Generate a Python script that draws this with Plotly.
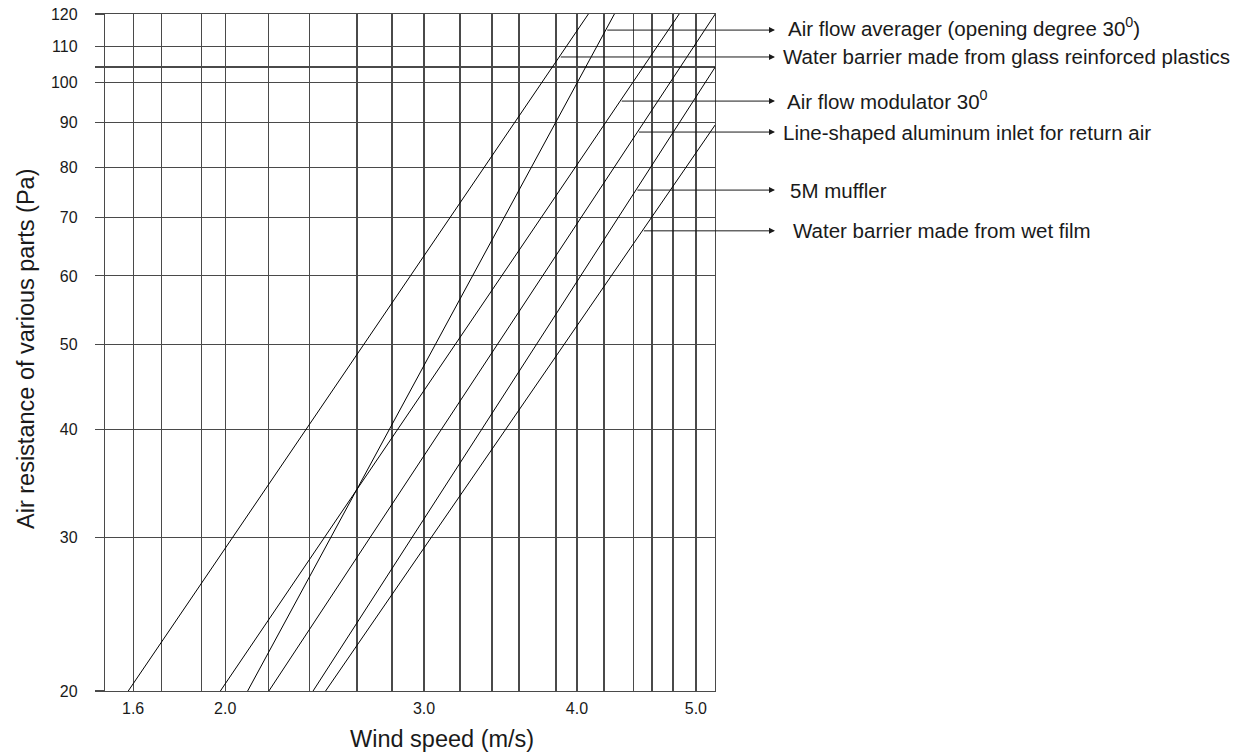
import math
import plotly.graph_objects as go

# ---------------- data ----------------
series_names = [
    "Water barrier made from glass reinforced plastics",
    "Air flow averager (opening degree 30<sup>0</sup>)",
    "Air flow modulator 30<sup>0</sup>",
    "Line-shaped aluminum inlet for return air",
    "5M muffler",
    "Water barrier made from wet film",
]
speed_start = [1.62, 2.06, 1.95, 2.15, 2.35, 2.41]      # wind speed (m/s) at start
speed_end = [4.09, 4.31, 4.91, 5.28, 5.28, 5.28]        # wind speed (m/s) at end
resist_start = [20, 20, 20, 20, 20, 20]                 # Pa
resist_end = [120, 120, 120, 120, 104.3, 89.5]          # Pa

# resistance level at which each label's leader line leaves its curve
label_resist = [107.1, 115.0, 95.3, 87.8, 75.3, 67.6]

x_grid = [1.636, 1.731, 1.876, 1.969, 2.147, 2.332, 2.567, 2.755, 2.938,
          3.159, 3.369, 3.557, 3.832, 3.997, 4.220, 4.482, 4.648, 4.849, 5.078]
x_tick_vals = [1.636, 1.969, 2.938, 3.997, 5.078]
x_tick_text = ["1.6", "2.0", "3.0", "4.0", "5.0"]

y_grid = [20, 30, 40, 50, 60, 70, 80, 90, 100, 104.3, 110, 120]
y_tick_text = ["20", "30", "40", "50", "60", "70", "80", "90", "100", "", "110", "120"]

x_range = [1.546, 5.277]
y_range = [20, 120]

# ---------------- layout geometry ----------------
FONT = "Liberation Sans, Arial, sans-serif"
GRID = "#4a4a4a"
INK = "#1a1a1a"

FIG_W, FIG_H = 1245, 756
PLOT_L, PLOT_R, PLOT_T, PLOT_B = 105, 715, 14, 691
plot_w = PLOT_R - PLOT_L
plot_h = PLOT_B - PLOT_T


def paper_x(px):
    return (px - PLOT_L) / plot_w


def paper_y(py):
    return (PLOT_B - py) / plot_h


fig = go.Figure()
for i in range(len(series_names)):
    fig.add_trace(go.Scatter(
        x=[speed_start[i], speed_end[i]],
        y=[resist_start[i], resist_end[i]],
        mode="lines",
        line=dict(color="#000000", width=1),
        name=series_names[i],
        showlegend=False,
        hoverinfo="skip",
    ))

lx0, lx1 = math.log10(x_range[0]), math.log10(x_range[1])
tip_log = lx0 + paper_x(775) * (lx1 - lx0)
text_px = [781, 786, 785, 781, 788, 791]
text_dy = [0, -3, -1, 0, 0, 0]   # small vertical nudges of the label texts (pixels)

for i in range(len(series_names)):
    ly0, ly1 = math.log10(resist_start[i]), math.log10(resist_end[i])
    sx0, sx1 = math.log10(speed_start[i]), math.log10(speed_end[i])
    ly = math.log10(label_resist[i])
    t = (ly - ly0) / (ly1 - ly0)
    cross = sx0 + t * (sx1 - sx0)
    # leader line with arrow head
    fig.add_annotation(
        x=tip_log, y=ly, xref="x", yref="y",
        ax=cross, ay=ly, axref="x", ayref="y",
        text="", showarrow=True,
        arrowhead=2, arrowsize=1.2, arrowwidth=1, arrowcolor=INK,
    )
    # label text
    fig.add_annotation(
        x=paper_x(text_px[i]), y=ly, xref="paper", yref="y",
        yshift=-text_dy[i],
        text=series_names[i], showarrow=False,
        xanchor="left", yanchor="middle",
        font=dict(family=FONT, size=20.5, color=INK),
    )

# axis titles
fig.add_annotation(
    x=paper_x(442), y=paper_y(739), xref="paper", yref="paper",
    text="Wind speed (m/s)", showarrow=False,
    xanchor="center", yanchor="middle",
    font=dict(family=FONT, size=23.5, color=INK),
)
fig.add_annotation(
    x=paper_x(26), y=paper_y(349), xref="paper", yref="paper",
    text="Air resistance of various parts (Pa)", showarrow=False,
    textangle=-90, xanchor="center", yanchor="middle",
    font=dict(family=FONT, size=23.5, color=INK),
)

fig.update_xaxes(
    type="log", range=[lx0, lx1], automargin=False,
    tickmode="array", tickvals=x_grid,
    ticktext=[x_tick_text[x_tick_vals.index(v)] if v in x_tick_vals else "" for v in x_grid],
    showgrid=True, gridcolor=GRID, gridwidth=1.2,
    ticks="", ticklabelstandoff=3, ticklabeloverflow="allow",
    showline=True, linecolor=GRID, linewidth=1.2, mirror=True,
    zeroline=False,
    tickfont=dict(family=FONT, size=16, color=INK),
)
fig.update_yaxes(
    type="log", range=[math.log10(y_range[0]), math.log10(y_range[1])],
    automargin=False,
    tickmode="array", tickvals=y_grid, ticktext=y_tick_text,
    showgrid=True, gridcolor=GRID, gridwidth=1.2,
    ticks="outside", ticklen=9, tickcolor=GRID, tickwidth=1.2,
    ticklabelstandoff=14, ticklabeloverflow="allow",
    showline=True, linecolor=GRID, linewidth=1.2, mirror=True,
    zeroline=False,
    tickfont=dict(family=FONT, size=16, color=INK),
)

fig.update_layout(
    width=FIG_W, height=FIG_H,
    margin=dict(l=PLOT_L, r=FIG_W - PLOT_R, t=PLOT_T, b=FIG_H - PLOT_B),
    paper_bgcolor="white", plot_bgcolor="white",
    showlegend=False,
    font=dict(family=FONT, color=INK),
)

fig.write_html(
    "out.html",
    config={"displayModeBar": False, "staticPlot": True},
    post_script="document.body.style.margin='0';document.body.style.overflow='hidden';",
)
